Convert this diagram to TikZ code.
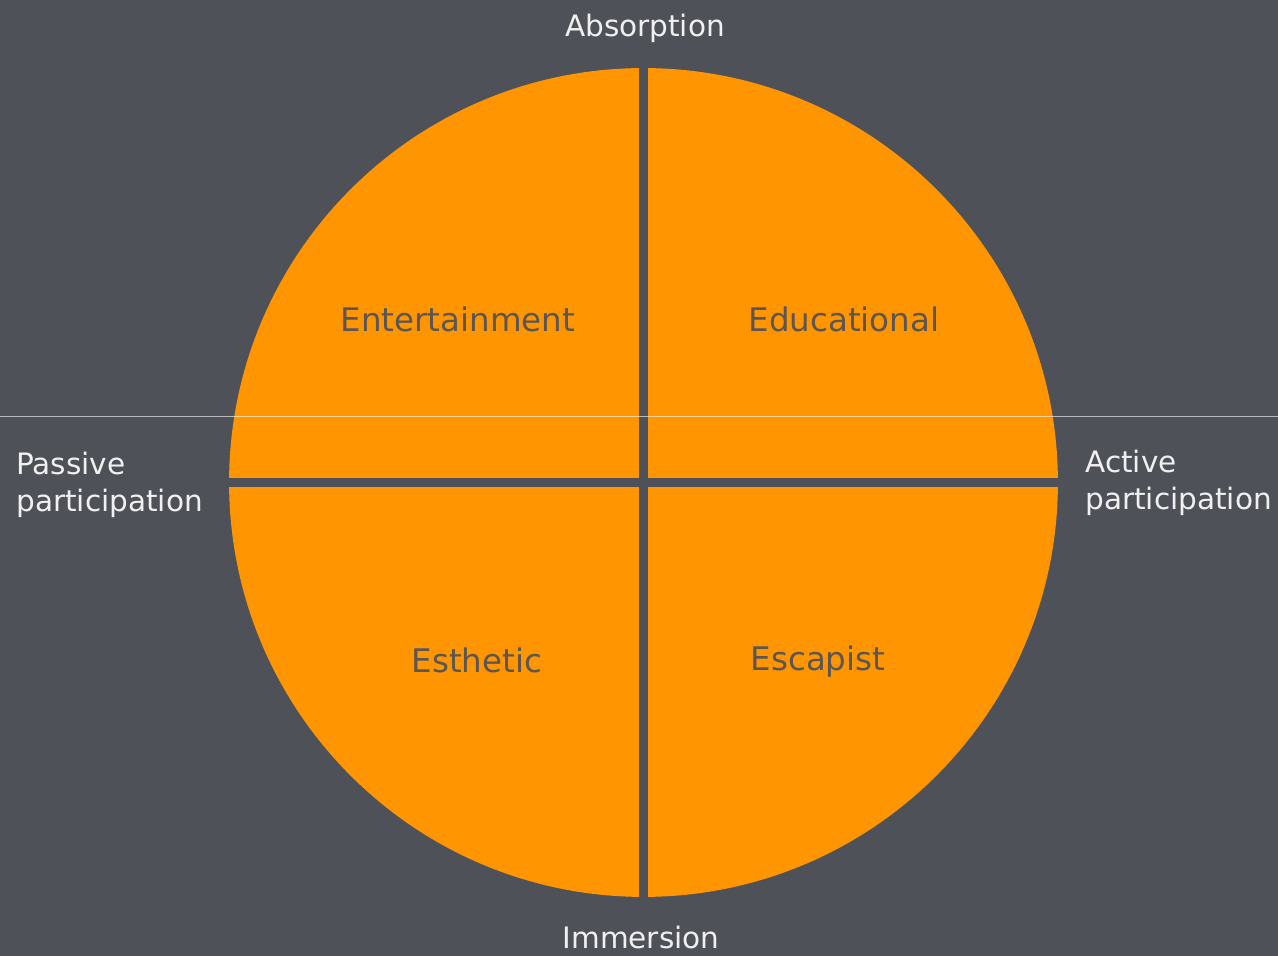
\documentclass[tikz,border=0pt]{standalone}
\usepackage{fontspec}
\setmainfont{DejaVu Sans}
\usetikzlibrary{positioning}
\definecolor{slate}{HTML}{4F5159}
\definecolor{amber}{HTML}{FF9500}
\definecolor{inkgray}{HTML}{5B5651}
\tikzstyle{quad}=[text=inkgray,font=\fontsize{18.5}{22}\selectfont]
\tikzstyle{axis}=[text=white!94!black,font=\fontsize{16.8}{21}\selectfont,inner sep=0mm,align=left]
\tikzstyle{gap}=[draw=slate,line width=0.18cm]
\tikzset{every picture/.style={
    x=0.02cm,y=0.02cm
  }
}

\begin{document}
\begin{tikzpicture}
        \fill[slate] (0,0) rectangle (1278,956);
        \useasboundingbox (0,0) rectangle (1278,956);
        \node[circle,fill=amber,inner sep=0mm,minimum size=16.58cm] at (643.5,473.5) (disc) {};
        \draw[gap] ([yshift=2mm]disc.north) -- ([yshift=-2mm]disc.south);
        \draw[gap] ([xshift=-2mm]disc.west) -- ([xshift=2mm]disc.east);
        \node[quad] at (458,637) (ent) {Entertainment};
        \node[quad] at (844,637) (edu) {Educational};
        \node[quad] at (477,296) (est) {Esthetic};
        \node[quad] at (818,294) (esc) {Escapist};
        \node[axis] at (645,928) (abs) {Absorption};
        \node[axis] at (641,18) (imm) {Immersion};
        \node[axis,anchor=west] at (16,471.5) (pas) {Passive\\participation};
        \node[axis,anchor=west] at (1085,473.5) (act) {Active\\participation};
        \draw[white,opacity=0.6,line width=0.02cm] (0,539) -- (1278,539);
      \end{tikzpicture}
\end{document}
